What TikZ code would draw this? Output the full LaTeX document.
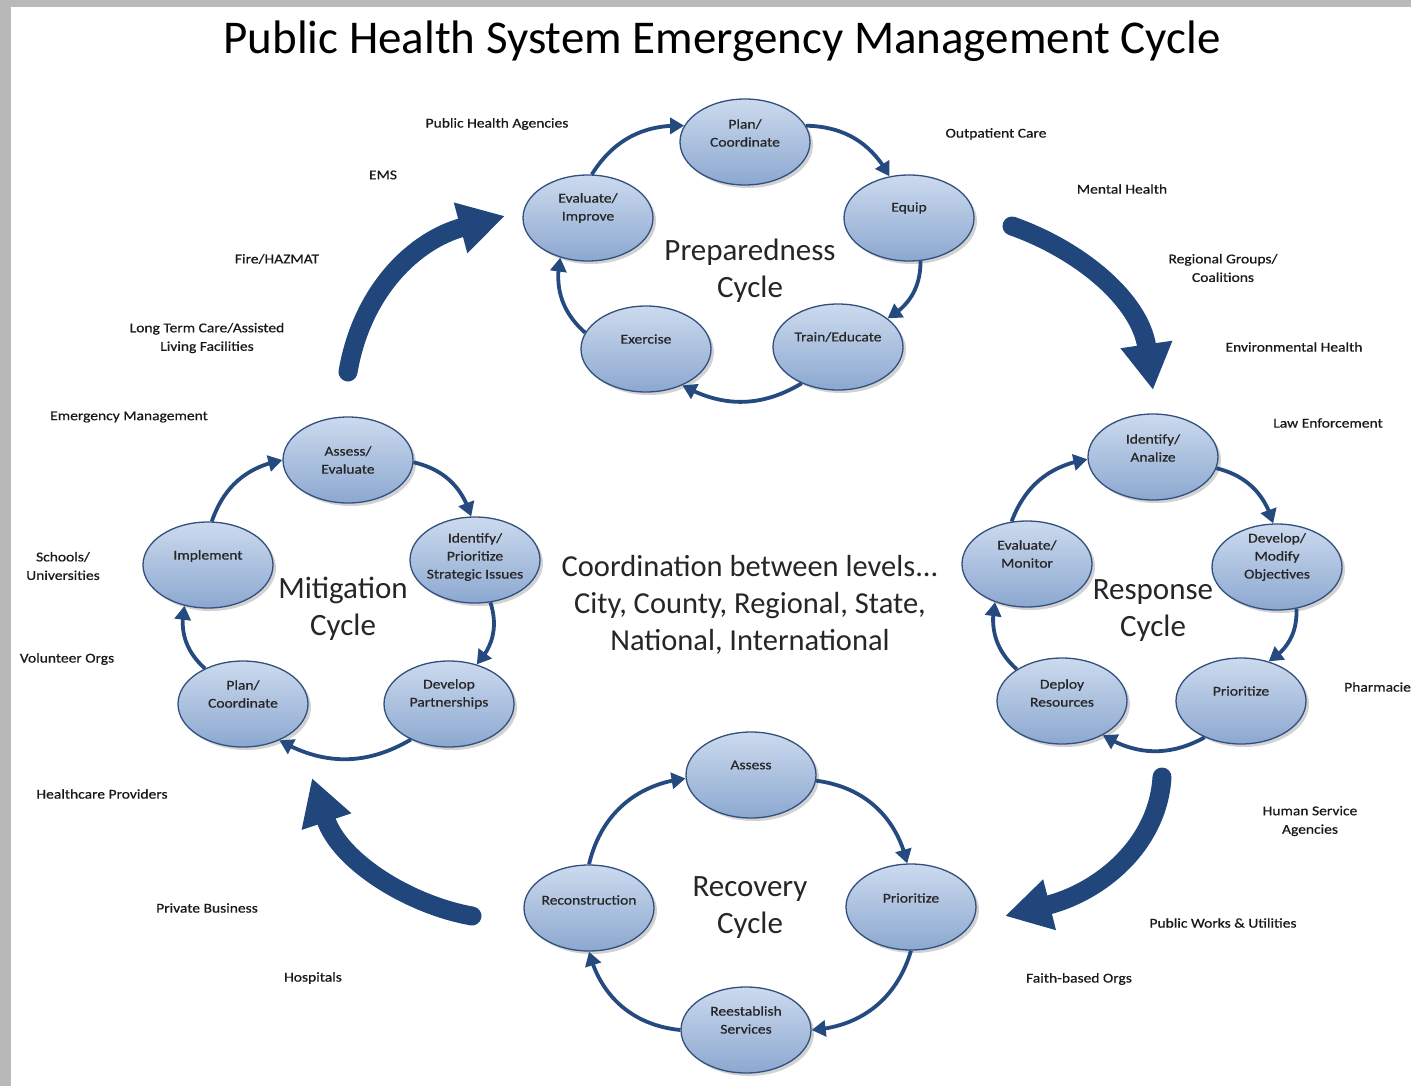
\documentclass[tikz,border=0pt]{standalone}
\usepackage{fontspec}
\setmainfont{Carlito}
\newfontfamily\smallfnt[FakeStretch=1.15,FakeBold=0.6]{Carlito}
\usetikzlibrary{arrows.meta,shapes.geometric,shadows,bending}
\definecolor{elltop}{RGB}{204,218,238}
\definecolor{ellbot}{RGB}{140,168,208}
\definecolor{ellb}{RGB}{50,80,125}
\definecolor{arrowc}{RGB}{36,74,128}
\definecolor{bigc}{RGB}{32,70,124}
\definecolor{frameg}{RGB}{185,185,185}
\tikzset{
 ell/.style={ellipse, draw=ellb, line width=1.3pt, top color=elltop, bottom color=ellbot,
   minimum width=130pt, minimum height=86pt, inner sep=0pt,
   drop shadow={opacity=0.35, shadow xshift=3pt, shadow yshift=-3pt}},
 etxt/.style={font=\smallfnt\fontsize{13.5}{18}\selectfont, align=center, text=black!85, inner sep=0pt},
 cyc/.style={draw=arrowc, line width=3.8pt, -{Triangle[length=14pt,width=16pt]}},
 bigarrow/.style={draw=bigc, line width=19pt, line cap=round, -{Triangle[length=46pt,width=49pt,quick]}},
 lbl/.style={font=\smallfnt\fontsize{13.5}{18.5}\selectfont, align=center, text=black!90, inner sep=0pt},
 cyclbl/.style={font=\fontsize{31}{37}\selectfont, align=center, text=black!85, inner sep=0pt},
 midlbl/.style={font=\fontsize{30.5}{37}\selectfont, align=center, text=black!85, inner sep=0pt}
}
\begin{document}
\begin{tikzpicture}[x=1pt,y=-1pt]
\useasboundingbox (0,0) rectangle (1411,1086);
\fill[frameg] (0,0) rectangle (1411,1086);
\fill[white] (11,7) rectangle (1411,1086);

% title
\node[anchor=base, font=\fontsize{47}{54}\selectfont, inner sep=0pt] (title) at (722,54) {Public Health System Emergency Management Cycle};

% ===== Preparedness =====
\node[ell] (pPlan) at (745,142) {};
\node[etxt] (pPlanT) at (745,133) {Plan/\\Coordinate};
\node[ell] (pEquip) at (909,218) {};
\node[etxt] (pEquipT) at (909,208) {Equip};
\node[ell] (pEval) at (588,218) {};
\node[etxt] (pEvalT) at (588,208) {Evaluate/\\Improve};
\node[ell] (pExer) at (646,349) {};
\node[etxt] (pExerT) at (646,339) {Exercise};
\node[ell] (pTrain) at (838,347) {};
\node[etxt] (pTrainT) at (838,337) {Train/Educate};
\node[cyclbl] (pLbl) at (750,271) {Preparedness\\Cycle};
\draw[cyc] (pPlan.15) to[bend left=30] (pEquip.115);
\draw[cyc] (pEquip.-75) to[bend left=30] (pTrain.30);
\draw[cyc] (pTrain.-135) to[bend left=30] (pExer.-45);
\draw[cyc] (pExer.165) to[bend left=30] (pEval.-125);
\draw[cyc] (pEval.85) to[bend left=30] (pPlan.165);

% ===== Response =====
\node[ell] (rIdent) at (1153,457) {};
\node[etxt] (rIdentT) at (1153,448) {Identify/\\Analize};
\node[ell] (rDev) at (1277,567) {};
\node[etxt] (rDevT) at (1277,557) {Develop/\\Modify\\Objectives};
\node[ell] (rPrio) at (1241,701) {};
\node[etxt] (rPrioT) at (1241,691) {Prioritize};
\node[ell] (rDep) at (1062,701) {};
\node[etxt] (rDepT) at (1062,693) {Deploy\\Resources};
\node[ell] (rEval) at (1027,564) {};
\node[etxt] (rEvalT) at (1027,554) {Evaluate/\\Monitor};
\node[cyclbl] (rLbl) at (1153,611) {Response\\Cycle};
\draw[cyc] (rIdent.-10) to[bend left=30] (rDev.95);
\draw[cyc] (rDev.-65) to[bend left=30] (rPrio.55);
\draw[cyc] (rPrio.-135) to[bend left=30] (rDep.-40);
\draw[cyc] (rDep.145) to[bend left=30] (rEval.-130);
\draw[cyc] (rEval.110) to[bend left=30] (rIdent.182);

% ===== Mitigation =====
\node[ell] (mAss) at (348,460) {};
\node[etxt] (mAssT) at (348,460) {Assess/\\Evaluate};
\node[ell] (mIdent) at (475,560) {};
\node[etxt] (mIdentT) at (475,557) {Identify/\\Prioritize\\Strategic Issues};
\node[ell] (mDev) at (449,704) {};
\node[etxt] (mDevT) at (449,694) {Develop\\Partnerships};
\node[ell] (mPlan) at (243,704) {};
\node[etxt] (mPlanT) at (243,694) {Plan/\\Coordinate};
\node[ell] (mImpl) at (208,565) {};
\node[etxt] (mImplT) at (208,556) {Implement};
\node[cyclbl] (mLbl) at (343,609) {Mitigation\\Cycle};
\draw[cyc] (mAss.-2) to[bend left=30] (mIdent.95);
\draw[cyc] (mIdent.-70) to[bend left=30] (mDev.55);
\draw[cyc] (mDev.-137) to[bend left=30] (mPlan.-45);
\draw[cyc] (mPlan.137) to[bend left=30] (mImpl.-120);
\draw[cyc] (mImpl.85) to[bend left=30] (mAss.180);

% ===== Recovery =====
\node[ell] (cAss) at (751,775) {};
\node[etxt] (cAssT) at (751,765) {Assess};
\node[ell] (cPrio) at (911,907) {};
\node[etxt] (cPrioT) at (911,898) {Prioritize};
\node[ell] (cRee) at (746,1030) {};
\node[etxt] (cReeT) at (746,1020) {Reestablish\\Services};
\node[ell] (cRec) at (589,908) {};
\node[etxt] (cRecT) at (589,900) {Reconstruction};
\node[cyclbl] (cLbl) at (750,908) {Recovery\\Cycle};
\draw[cyc] (cAss.-5) to[bend left=35] (cPrio.95);
\draw[cyc] (cPrio.-90) to[bend left=35] (cRee.0);
\draw[cyc] (cRee.180) to[bend left=35] (cRec.-90);
\draw[cyc] (cRec.90) to[bend left=35] (cAss.183);

% ===== centre =====
\node[midlbl] (mid) at (750,605) {Coordination between levels...\\City, County, Regional, State,\\National, International};

% ===== big arrows =====
\coordinate (b1s) at (348,372);
\coordinate (b1e) at (505,216);
\coordinate (b2s) at (1012,226);
\coordinate (b2e) at (1153,390);
\coordinate (b3s) at (1162,777);
\coordinate (b3e) at (1005,916);
\coordinate (b4s) at (472,916);
\coordinate (b4e) at (312,778);
\draw[bigarrow] (b1s) .. controls (362,290) and (415,240) .. (b1e);
\draw[bigarrow] (b2s) .. controls (1080,250) and (1140,300) .. (b2e);
\draw[bigarrow] (b3s) .. controls (1158,845) and (1100,892) .. (b3e);
\draw[bigarrow] (b4s) .. controls (410,905) and (340,862) .. (b4e);

% ===== outer labels =====
\node[lbl] (l1) at (497,124) {Public Health Agencies};
\node[lbl] (l2) at (383,175) {EMS};
\node[lbl] (l3) at (277,259) {Fire/HAZMAT};
\node[lbl] (l4) at (207,338) {Long Term Care/Assisted\\Living Facilities};
\node[lbl] (l5) at (129,417) {Emergency Management};
\node[lbl] (l6) at (63,566) {Schools/\\Universities};
\node[lbl] (l7) at (67,659) {Volunteer Orgs};
\node[lbl] (l8) at (102,794) {Healthcare Providers};
\node[lbl] (l9) at (207,908) {Private Business};
\node[lbl] (l10) at (313,978) {Hospitals};
\node[lbl] (l11) at (996,134) {Outpatient Care};
\node[lbl] (l12) at (1122,189) {Mental Health};
\node[lbl] (l13) at (1223,268) {Regional Groups/\\Coalitions};
\node[lbl] (l14) at (1294,347) {Environmental Health};
\node[lbl] (l15) at (1328,423) {Law Enforcement};
\node[lbl, anchor=west] (l16) at (1344,687) {Pharmacie};
\node[lbl] (l17) at (1310,821) {Human Service\\Agencies};
\node[lbl] (l18) at (1223,923) {Public Works \& Utilities};
\node[lbl] (l19) at (1079,979) {Faith-based Orgs};
\end{tikzpicture}
\end{document}
